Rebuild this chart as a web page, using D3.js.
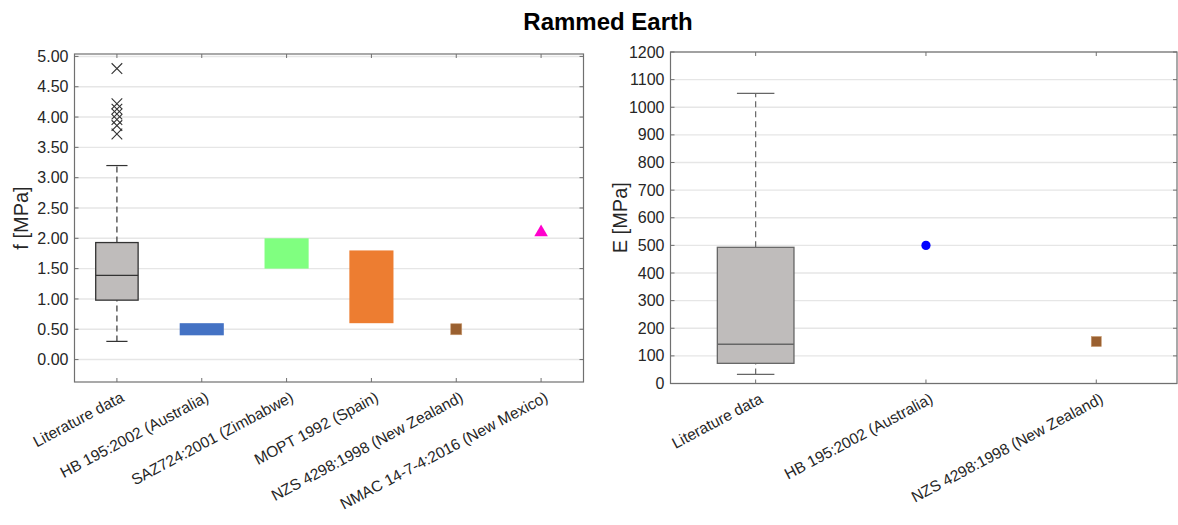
<!DOCTYPE html>
<html>
<head>
<meta charset="utf-8">
<script src="https://cdn.jsdelivr.net/npm/d3@7.9.0/dist/d3.min.js"></script>
<style>
  body { margin: 0; background: #fff; }
  svg { display: block; font-family: "Liberation Sans", Arial, sans-serif; }
</style>
</head>
<body>
<svg id="chart" width="1178" height="525"></svg>
<script>
// left panel: compressive strength f
const fCategories = ["Literature data", "HB 195:2002 (Australia)", "SAZ724:2001 (Zimbabwe)",
  "MOPT 1992 (Spain)", "NZS 4298:1998 (New Zealand)", "NMAC 14-7-4:2016 (New Mexico)"];
const fLitBox = [0.30, 0.98, 1.39, 1.93, 3.20];   // min, q1, median, q3, max
const fOutliers = [4.80, 4.22, 4.13, 4.05, 3.96, 3.86, 3.72];
const fRangeCats = ["HB 195:2002 (Australia)", "SAZ724:2001 (Zimbabwe)", "MOPT 1992 (Spain)"];
const fRangeLow = [0.40, 1.50, 0.60];
const fRangeHigh = [0.60, 2.00, 1.80];
const fRangeColors = ["#4472c4", "#80ff80", "#ed7d31"];
const fNzs = 0.50;
const fNmac = 2.10;
const fTicks = [0, 0.5, 1, 1.5, 2, 2.5, 3, 3.5, 4, 4.5, 5];

// right panel: elastic modulus E
const eCategories = ["Literature data", "HB 195:2002 (Australia)", "NZS 4298:1998 (New Zealand)"];
const eLitBox = [33, 73, 142, 493, 1050];
const eHb = 500;
const eNzs = 152;
const eTicks = d3.range(0, 1201, 100);

const svg = d3.select("#chart");
const textCol = "#262626";
const frameCol = "#707070";
const gridCol = "#e6e6e6";

svg.append("text")
  .attr("x", 608).attr("y", 30)
  .attr("text-anchor", "middle")
  .attr("font-size", 24).attr("font-weight", "bold")
  .attr("fill", "#000")
  .text("Rammed Earth");

function panel(opts) {
  const g = svg.append("g");
  const x = d3.scaleLinear().domain(opts.xDomain).range([opts.left, opts.right]);
  const y = d3.scaleLinear().domain(opts.yDomain).range([opts.bottom, opts.top]);
  const pos = (c) => x(opts.categories.indexOf(c) + 1);

  // grid
  g.selectAll(".grid").data(opts.yTicks).join("line")
    .attr("x1", opts.left).attr("x2", opts.right)
    .attr("y1", d => y(d)).attr("y2", d => y(d))
    .attr("stroke", gridCol).attr("stroke-width", 1.4);

  // frame
  g.append("rect")
    .attr("x", opts.left).attr("y", opts.top)
    .attr("width", opts.right - opts.left).attr("height", opts.bottom - opts.top)
    .attr("fill", "none").attr("stroke", frameCol).attr("stroke-width", 1.2);

  // inner ticks
  const tl = 4;
  opts.yTicks.forEach(t => {
    g.append("line").attr("x1", opts.left).attr("x2", opts.left + tl)
      .attr("y1", y(t)).attr("y2", y(t)).attr("stroke", frameCol);
    g.append("line").attr("x1", opts.right).attr("x2", opts.right - tl)
      .attr("y1", y(t)).attr("y2", y(t)).attr("stroke", frameCol);
  });
  opts.categories.forEach(c => {
    g.append("line").attr("x1", pos(c)).attr("x2", pos(c))
      .attr("y1", opts.bottom).attr("y2", opts.bottom - tl).attr("stroke", frameCol);
    g.append("line").attr("x1", pos(c)).attr("x2", pos(c))
      .attr("y1", opts.top).attr("y2", opts.top + tl).attr("stroke", frameCol);
  });

  // y tick labels
  g.selectAll(".ylab").data(opts.yTicks).join("text")
    .attr("x", opts.left - 6).attr("y", d => y(d))
    .attr("dy", "0.35em").attr("text-anchor", "end")
    .attr("font-size", 16).attr("fill", textCol)
    .text(opts.yFormat);

  // x tick labels
  opts.categories.forEach(c => {
    g.append("text")
      .attr("transform", `translate(${pos(c) + 3},${opts.bottom + 9}) rotate(-28)`)
      .attr("text-anchor", "end").attr("dy", "0.7em")
      .attr("font-size", 15.5).attr("fill", textCol)
      .text(c);
  });

  // y axis title
  g.append("text")
    .attr("transform", `translate(${opts.titleX},${(opts.top + opts.bottom) / 2}) rotate(-90)`)
    .attr("text-anchor", "middle")
    .attr("font-size", 20).attr("fill", textCol)
    .text(opts.yTitle);

  // box plot
  const b = opts.box;
  const cx = pos(opts.categories[0]);
  const bw = (x(2) - x(1)) * opts.boxWidth;
  const cw = (x(2) - x(1)) * opts.capWidth;
  g.append("line").attr("x1", cx).attr("x2", cx).attr("y1", y(b[0])).attr("y2", y(b[1]))
    .attr("stroke", opts.boxStroke).attr("stroke-width", 1.2).attr("stroke-dasharray", "6,4");
  g.append("line").attr("x1", cx).attr("x2", cx).attr("y1", y(b[3])).attr("y2", y(b[4]))
    .attr("stroke", opts.boxStroke).attr("stroke-width", 1.2).attr("stroke-dasharray", "6,4");
  [b[0], b[4]].forEach(v => {
    g.append("line").attr("x1", cx - cw / 2).attr("x2", cx + cw / 2)
      .attr("y1", y(v)).attr("y2", y(v)).attr("stroke", opts.boxStroke).attr("stroke-width", 1.2);
  });
  g.append("rect")
    .attr("x", cx - bw / 2).attr("width", bw)
    .attr("y", y(b[3])).attr("height", y(b[1]) - y(b[3]))
    .attr("fill", "#bfbcbb").attr("stroke", opts.boxStroke).attr("stroke-width", 1.3);
  g.append("line").attr("x1", cx - bw / 2).attr("x2", cx + bw / 2)
    .attr("y1", y(b[2])).attr("y2", y(b[2])).attr("stroke", opts.boxStroke).attr("stroke-width", 1.3);

  return { g, x, y, pos, cx };
}

// left panel
const L = panel({
  categories: fCategories,
  xDomain: [0.5, 6.5], left: 74.5, right: 583.5,
  yDomain: [-0.37, 5.04], top: 54, bottom: 382,
  yTicks: fTicks, yFormat: d3.format(".2f"),
  yTitle: "f [MPa]", titleX: 28,
  box: fLitBox, boxWidth: 0.5, capWidth: 0.25, boxStroke: "#333"
});
// outliers
const xs = 5.3;
L.g.selectAll(".out").data(fOutliers).join("path")
  .attr("d", d => `M${L.cx - xs},${L.y(d) - xs}L${L.cx + xs},${L.y(d) + xs}M${L.cx - xs},${L.y(d) + xs}L${L.cx + xs},${L.y(d) - xs}`)
  .attr("stroke", "#333").attr("stroke-width", 1.1).attr("fill", "none");
// code ranges
const step = L.x(2) - L.x(1);
fRangeCats.forEach((c, i) => {
  L.g.append("rect")
    .attr("x", L.pos(c) - step * 0.26).attr("width", step * 0.52)
    .attr("y", L.y(fRangeHigh[i])).attr("height", L.y(fRangeLow[i]) - L.y(fRangeHigh[i]))
    .attr("fill", fRangeColors[i]);
});
L.g.append("rect")
  .attr("x", L.pos(fCategories[4]) - 5.5).attr("y", L.y(fNzs) - 5.5)
  .attr("width", 11).attr("height", 11)
  .attr("fill", "#9a6030").attr("stroke", "#c89a70").attr("stroke-width", 0.6);
L.g.append("path")
  .attr("d", d3.symbol(d3.symbolTriangle, 80)())
  .attr("transform", `translate(${L.pos(fCategories[5])},${L.y(fNmac)})`)
  .attr("fill", "#ff00cc");

// right panel
const R = panel({
  categories: eCategories,
  xDomain: [0.5, 3.474], left: 670.5, right: 1177,
  yDomain: [0, 1200], top: 52, bottom: 383.5,
  yTicks: eTicks, yFormat: d3.format("d"),
  yTitle: "E [MPa]", titleX: 627,
  box: eLitBox, boxWidth: 0.45, capWidth: 0.22, boxStroke: "#666"
});
R.g.append("circle")
  .attr("cx", R.pos(eCategories[1])).attr("cy", R.y(eHb)).attr("r", 4.6)
  .attr("fill", "#0000ff");
R.g.append("rect")
  .attr("x", R.pos(eCategories[2]) - 5).attr("y", R.y(eNzs) - 5)
  .attr("width", 10).attr("height", 10)
  .attr("fill", "#9a6030").attr("stroke", "#c89a70").attr("stroke-width", 0.6);
</script>
</body>
</html>
